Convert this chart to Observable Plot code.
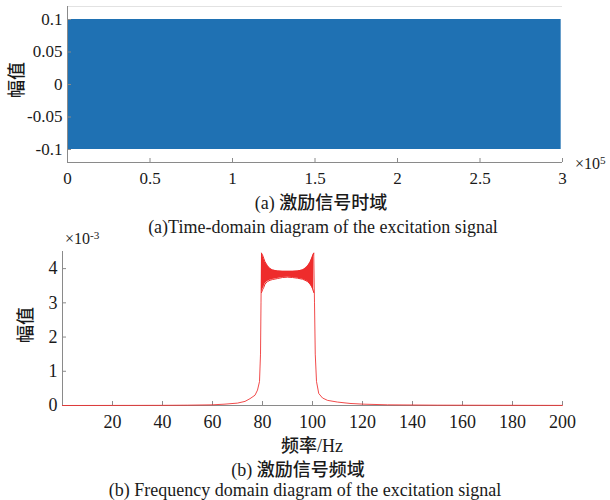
<!DOCTYPE html>
<html><head><meta charset="utf-8">
<script src="https://cdn.jsdelivr.net/npm/d3@7"></script>
<script src="https://cdn.jsdelivr.net/npm/@observablehq/plot@0.6"></script>
<style>
body{margin:0;background:#fff;}
#wrap{position:relative;width:610px;height:500px;overflow:hidden;font-family:"Liberation Serif","Times New Roman",serif;color:#1a1a1a;}
#wrap svg{position:absolute;left:0;}
.abs{position:absolute;white-space:nowrap;line-height:1;}
.cjk{font-family:"Noto Sans CJK SC",sans-serif;font-weight:500;}
.c{transform:translateX(-50%);}
.rot{transform:translate(-50%,-50%) rotate(-90deg);}
sup{font-size:0.7em;vertical-align:0.45em;line-height:0;}
</style></head><body><div id="wrap"></div>
<script>
// ---------- (a) time domain: envelope of the excitation signal ----------
const timeX = [0, 299200];
const timeUpper = [0.1, 0.1];
const timeLower = [-0.1, -0.1];
const timeTicks = [0, 50000, 100000, 150000, 200000, 250000, 300000];
const timeTickLabels = ["0", "0.5", "1", "1.5", "2", "2.5", "3"];
const ampTicksA = [-0.1, -0.05, 0, 0.05, 0.1];
const ampTickLabelsA = ["-0.1", "-0.05", "0", "0.05", "0.1"];

// ---------- (b) frequency domain (amplitude in ×10^-3) ----------
const freqLeft = [0, 20, 40, 50, 60, 65, 70, 73, 75, 77, 78, 78.8, 79.2, 79.4, 79.6];
const ampLeft  = [0, 0.002, 0.005, 0.01, 0.02, 0.04, 0.07, 0.12, 0.2, 0.3, 0.45, 0.7, 1.5, 3.0, 4.45];
const freqRight = [100.5, 100.8, 101.1, 101.6, 102.5, 104, 106, 110, 115, 120, 130, 150, 200];
const ampRight  = [4.45, 3.0, 1.5, 0.7, 0.35, 0.22, 0.15, 0.1, 0.06, 0.04, 0.02, 0.01, 0.003];
const freqBand = [79.6, 80.0, 80.5, 81, 82, 83, 84, 86, 88, 90, 92, 94, 96, 97, 98, 99, 99.7, 100.2, 100.5];
const bandUpper = [4.45, 4.40, 4.30, 4.2, 4.08, 4.0, 3.96, 3.93, 3.92, 3.92, 3.92, 3.93, 3.96, 4.0, 4.07, 4.18, 4.3, 4.40, 4.45];
const bandLower = [3.3, 3.38, 3.45, 3.55, 3.62, 3.66, 3.68, 3.71, 3.74, 3.75, 3.74, 3.72, 3.69, 3.66, 3.62, 3.55, 3.47, 3.38, 3.3];
const freqTicks = [20, 40, 60, 80, 100, 120, 140, 160, 180, 200];
const ampTicksB = [0, 1, 2, 3, 4];

const AX = "#8a8a8a";
const BLUE = "#1f71b3";
const RED = "#ee2c2c";
const FONT = '"Liberation Serif","Times New Roman",serif';

const timeTable = timeX.map((t, i) => ({t, hi: timeUpper[i], lo: timeLower[i]}));
const leftTable = freqLeft.map((f, i) => ({f, a: ampLeft[i]}));
const rightTable = freqRight.map((f, i) => ({f, a: ampRight[i]}));
const bandTable = freqBand.map((f, i) => ({f, hi: bandUpper[i], lo: bandLower[i]}));

const wrap = document.getElementById("wrap");

const pa = Plot.plot({
  width: 610, height: 190,
  marginTop: 6, marginBottom: 28, marginLeft: 67, marginRight: 48,
  x: {domain: [0, 300000]},
  y: {domain: [-0.12, 0.12]},
  style: {fontFamily: FONT, fontSize: "17px", color: "#1a1a1a", background: "transparent", overflow: "visible"},
  marks: [
    Plot.ruleY([0.12], {stroke: "#e2e2e2"}),
    Plot.areaY(timeTable, {x: "t", y1: "lo", y2: "hi", fill: BLUE}),
    Plot.ruleX([0], {stroke: AX}),
    Plot.ruleY([-0.12], {stroke: AX}),
    Plot.tickX(timeTicks, {x: d => d, insetTop: 152, stroke: AX}),
    Plot.tickY(ampTicksA, {y: d => d, insetRight: 491, stroke: AX}),
    Plot.axisX({ticks: timeTicks, tickSize: 0, tickPadding: 9.5, fontSize: 17,
      tickFormat: d => timeTickLabels[timeTicks.indexOf(d)], label: null}),
    Plot.axisY({ticks: ampTicksA, tickSize: 0, tickPadding: 5, fontSize: 17,
      tickFormat: d => ampTickLabelsA[ampTicksA.indexOf(d)], label: null})
  ]
});
pa.style.top = "0px";
wrap.appendChild(pa);

const pb = Plot.plot({
  width: 610, height: 200,
  marginTop: 11, marginBottom: 35, marginLeft: 62, marginRight: 48,
  x: {domain: [0, 200]},
  y: {domain: [0, 4.5]},
  style: {fontFamily: FONT, fontSize: "18px", color: "#1a1a1a", background: "transparent", overflow: "visible"},
  marks: [
    Plot.ruleX([0], {stroke: AX}),
    Plot.ruleY([0], {stroke: AX}),
    Plot.tickX(freqTicks, {x: d => d, insetTop: 150, stroke: AX}),
    Plot.tickY(ampTicksB, {y: d => d, insetRight: 496, stroke: AX}),
    Plot.areaY(bandTable, {x: "f", y1: "lo", y2: "hi", fill: RED}),
    Plot.line(bandTable, {x: "f", y: "hi", stroke: RED, strokeWidth: 1}),
    Plot.line(bandTable, {x: "f", y: "lo", stroke: RED, strokeWidth: 1}),
    Plot.line(leftTable, {x: "f", y: "a", stroke: RED, strokeWidth: 1, strokeOpacity: 0.85}),
    Plot.line(rightTable, {x: "f", y: "a", stroke: RED, strokeWidth: 1, strokeOpacity: 0.85}),
    Plot.axisX({ticks: freqTicks, tickSize: 0, tickPadding: 10, fontSize: 18, tickFormat: d => String(d), label: null}),
    Plot.axisY({ticks: ampTicksB, tickSize: 0, tickPadding: 5, fontSize: 18, tickFormat: d => String(d), label: null})
  ]
});
pb.style.top = "240px";
wrap.appendChild(pb);

const html = `
<div class="abs cjk rot" style="left:15px;top:80px;font-size:18px;">幅值</div>
<div class="abs" style="left:575px;top:156px;font-size:16px;">×10<sup>5</sup></div>
<div class="abs c" style="left:321px;top:192px;font-size:18px;">(a) <span class="cjk">激励信号时域</span></div>
<div class="abs c" style="left:323px;top:218px;font-size:18px;">(a)Time-domain diagram of the excitation signal</div>
<div class="abs" style="left:65px;top:231px;font-size:16px;">×10<sup>-3</sup></div>
<div class="abs cjk rot" style="left:24px;top:325px;font-size:18px;">幅值</div>
<div class="abs c" style="left:312px;top:435px;font-size:18px;"><span class="cjk">频率</span>/Hz</div>
<div class="abs c" style="left:298px;top:459px;font-size:18px;">(b) <span class="cjk">激励信号频域</span></div>
<div class="abs c" style="left:305px;top:481px;font-size:18px;">(b) Frequency domain diagram of the excitation signal</div>`;
wrap.insertAdjacentHTML("beforeend", html);
</script></body></html>
